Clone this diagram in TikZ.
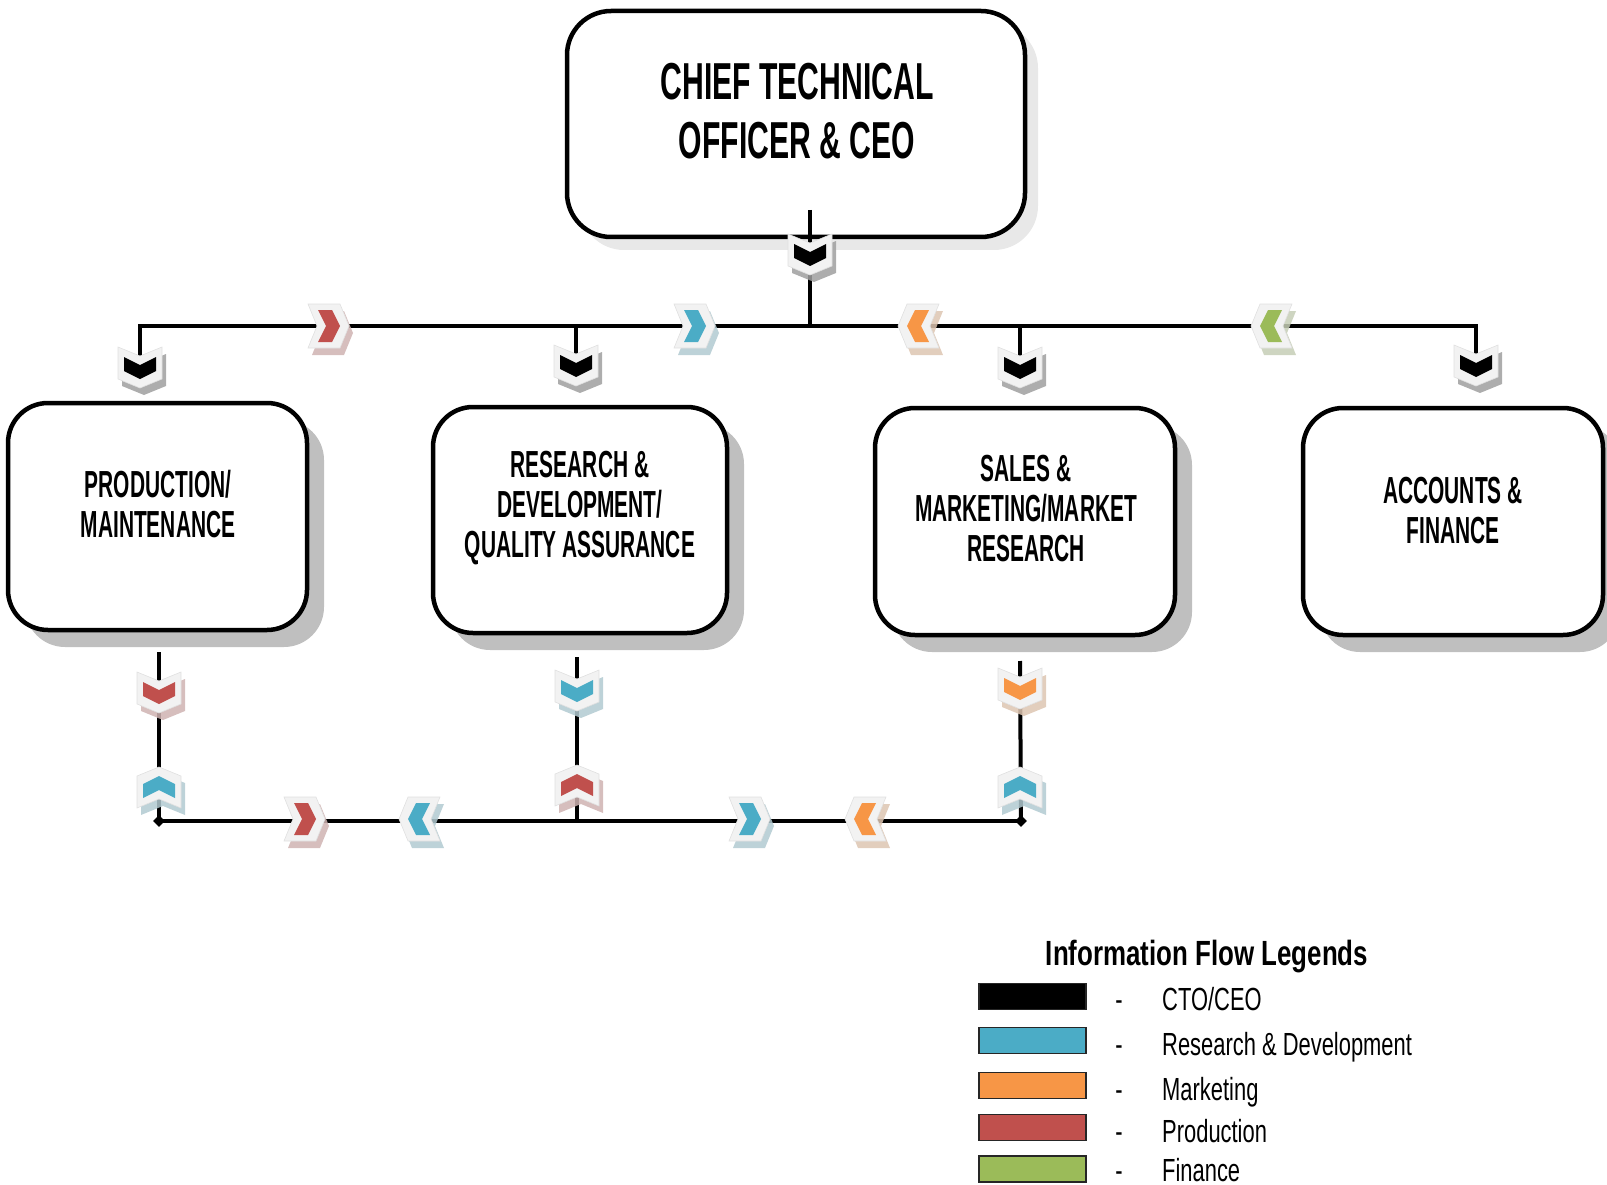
\documentclass[tikz,border=0pt]{standalone}
\usepackage{fontspec}
\usetikzlibrary{shadows,shapes.geometric}
\newfontfamily\boxfont{Liberation Sans}[FakeStretch=0.58]
\newfontfamily\deptfont{Liberation Sans}[FakeStretch=0.555]
\newfontfamily\titlefont{Liberation Sans}[FakeStretch=0.74]
\newfontfamily\legfont{Liberation Sans}[FakeStretch=0.685]
\definecolor{cblue}{HTML}{4BACC6}
\definecolor{corange}{HTML}{F79646}
\definecolor{cred}{HTML}{C0504D}
\definecolor{cgreen}{HTML}{9BBB59}
\definecolor{chevbg}{HTML}{F2F2F2}
\tikzset{
  deptbox/.style={draw=black, line width=4.5pt, rounded corners=40pt, fill=white,
    inner sep=0pt, minimum width=#1,
    drop shadow={shadow xshift=17pt, shadow yshift=-17pt, fill=black!25, opacity=1}},
  ceobox/.style={draw=black, line width=4.5pt, rounded corners=44pt, fill=white,
    inner sep=0pt, minimum width=458pt, minimum height=226pt,
    drop shadow={shadow xshift=13pt, shadow yshift=-13pt, fill=black!9, opacity=1}},
  ceotext/.style={align=center, font=\boxfont\bfseries\fontsize{52}{59}\selectfont, inner sep=0pt},
  depttext/.style={align=center, font=\deptfont\bfseries\fontsize{37.7}{40}\selectfont, inner sep=0pt},
  conn/.style={line width=4pt, black},
  junct/.style={diamond, fill=black, inner sep=0pt, minimum size=12pt},
  swatch/.style={draw=black!85, line width=1.5pt, minimum width=107pt, minimum height=26pt, inner sep=0pt},
  legtext/.style={font=\legfont\fontsize{32}{36}\selectfont, anchor=base west, inner sep=0pt},
  legdash/.style={font=\legfont\fontsize{32}{36}\selectfont, anchor=base, inner sep=0pt},
  pics/chev/.style 2 args={code={
    \fill[#2!50!gray!50!white, fill opacity=0.85, shift={(4,7)}, rotate=#1]
      (-20,22) -- (12,22) -- (21,0) -- (12,-22) -- (-20,-22) -- (-11,0) -- cycle;
    \filldraw[fill=chevbg, draw=black!12, line width=0.6pt, rotate=#1]
      (-20,22) -- (12,22) -- (21,0) -- (12,-22) -- (-20,-22) -- (-11,0) -- cycle;
    \fill[#2, rotate=#1]
      (-10,16) -- (4,16) -- (12,0) -- (4,-16) -- (-10,-16) -- (-2,0) -- cycle;
  }}
}
\begin{document}
\begin{tikzpicture}[x=1pt, y=-1pt]
\useasboundingbox (0,0) rectangle (1607,1185);

% boxes
\node[ceobox] (ceo) at (796,124) {};
\node[ceotext] (ceot) at (797,111.5) {CHIEF TECHNICAL\\OFFICER \& CEO};

\node[deptbox=299pt, minimum height=227pt] (prod) at (157.5,516.5) {};
\node[deptbox=294pt, minimum height=226pt] (rd) at (580,520) {};
\node[deptbox=300pt, minimum height=227pt] (sales) at (1025,521.5) {};
\node[deptbox=300pt, minimum height=227pt] (acc) at (1453,521.5) {};

\node[depttext] (prodt) at (158,504) {PRODUCTION/\\MAINTENANCE};
\node[depttext] (rdt) at (580,508) {RESEARCH \&\\DEVELOPMENT/\\QUALITY ASSURANCE};
\node[depttext] (salest) at (1026,509) {SALES \&\\MARKETING/MARKET\\RESEARCH};
\node[depttext] (acct) at (1453,510.5) {ACCOUNTS \&\\FINANCE};

% coordinates of the connector network
\coordinate (stemtop) at (810,210);
\coordinate (hub) at (810,326);
\coordinate (tl) at (140,326);
\coordinate (tr) at (1476,326);
\coordinate (d1) at (140,364);
\coordinate (m2) at (576,326);
\coordinate (d2) at (576,364);
\coordinate (m3) at (1020,326);
\coordinate (d3) at (1020,364);
\coordinate (d4) at (1476,364);
\coordinate (pb) at (159,652);
\coordinate (rb) at (577,657);
\coordinate (sb) at (1020,661);
\coordinate (rj) at (577,821);

\draw[conn] (stemtop) -- (hub);
\draw[conn] (d1) -- (tl) -- (tr) -- (d4);
\draw[conn] (m2) -- (d2);
\draw[conn] (m3) -- (d3);

\node[junct] (jl) at (159,821) {};
\node[junct] (jr) at (1021,821) {};
\draw[conn] (pb) -- (jl.center);
\draw[conn] (rb) -- (rj);
\draw[conn] (sb) -- (jr.center);
\draw[conn] (jl.center) -- (jr.center);

% chevrons: top
\pic at (810,254) {chev={-90}{black}};
\pic at (328,326) {chev={0}{cred}};
\pic at (694,326) {chev={0}{cblue}};
\pic at (919,326) {chev={180}{corange}};
\pic at (1272,326) {chev={180}{cgreen}};
\pic at (140,367) {chev={-90}{black}};
\pic at (576,365) {chev={-90}{black}};
\pic at (1020,367) {chev={-90}{black}};
\pic at (1476,365) {chev={-90}{black}};

% chevrons: bottom
\pic at (159,692) {chev={-90}{cred}};
\pic at (159,788) {chev={90}{cblue}};
\pic at (577,690) {chev={-90}{cblue}};
\pic at (577,786) {chev={90}{cred}};
\pic at (1020,688) {chev={-90}{corange}};
\pic at (1020,788) {chev={90}{cblue}};
\pic at (304,819) {chev={0}{cred}};
\pic at (420,819) {chev={180}{cblue}};
\pic at (749,819) {chev={0}{cblue}};
\pic at (866,819) {chev={180}{corange}};

% legend
\node[font=\titlefont\bfseries\fontsize{35}{40}\selectfont, anchor=base, inner sep=0pt] (legt) at (1207,965) {Information Flow Legends};

\node[swatch, fill=black] (s1) at (1032.5,996.5) {};
\node[swatch, fill=cblue] (s2) at (1032.5,1040.5) {};
\node[swatch, fill=corange] (s3) at (1032.5,1085.5) {};
\node[swatch, fill=cred] (s4) at (1032.5,1127.5) {};
\node[swatch, fill=cgreen] (s5) at (1032.5,1169) {};

\node[legdash] (h1) at (1119,1010) {-};
\node[legdash] (h2) at (1119,1055) {-};
\node[legdash] (h3) at (1119,1100) {-};
\node[legdash] (h4) at (1119,1142) {-};
\node[legdash] (h5) at (1119,1181) {-};

\node[legtext] (l1) at (1162,1010) {CTO/CEO};
\node[legtext] (l2) at (1162,1055) {Research \& Development};
\node[legtext] (l3) at (1162,1100) {Marketing};
\node[legtext] (l4) at (1162,1142) {Production};
\node[legtext] (l5) at (1162,1181) {Finance};
\end{tikzpicture}
\end{document}
